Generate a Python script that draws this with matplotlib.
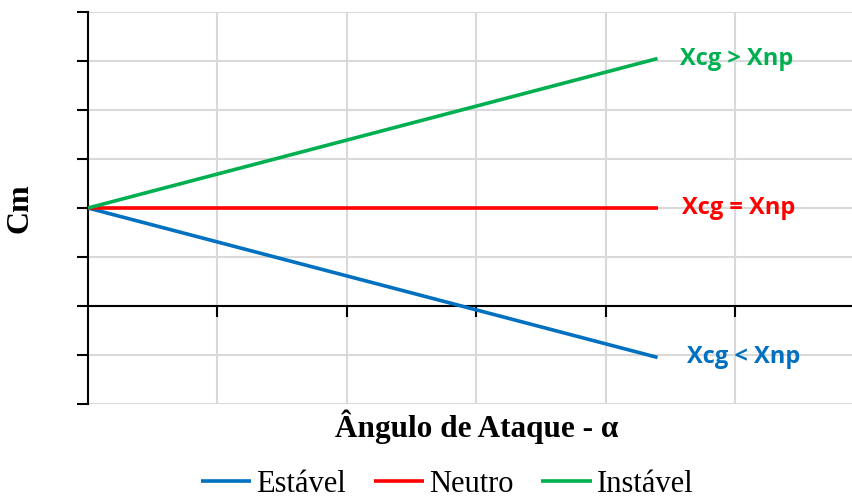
import matplotlib
matplotlib.use("Agg")
import matplotlib.pyplot as plt

# data
alpha = [0.0, 4.4]
cm_estavel = [2.0, -1.05]
cm_neutro = [2.0, 2.0]
cm_instavel = [2.0, 5.05]
series_names = ["Estável", "Neutro", "Instável"]
series_colors = ["#0070C0", "#FF0000", "#00B050"]
notes = ["Xcg < Xnp", "Xcg = Xnp", "Xcg > Xnp"]
note_dx = [0.23, 0.19, 0.17]

fig = plt.figure(figsize=(8.53, 4.97), dpi=100)
ax = fig.add_axes([88 / 853, 1 - 404 / 497, 1 - 88 / 853, 392 / 497])

ax.set_xlim(0, 5.91)
ax.set_ylim(-2, 6)
ax.set_xticks([1, 2, 3, 4, 5])
ax.set_yticks(range(-2, 7))
ax.grid(True, color="#d9d9d9", linewidth=1.5)
ax.set_axisbelow(True)

for s in ["top", "right", "bottom"]:
    ax.spines[s].set_visible(False)
ax.spines["left"].set_linewidth(1.5)
ax.axhline(0, color="black", linewidth=1.5, zorder=2)

ax.tick_params(axis="y", direction="out", length=8, width=1.5, labelleft=False)
ax.tick_params(axis="x", direction="out", length=8, width=1.5, labelbottom=False)
ax.spines["bottom"].set_position(("data", 0))

for ys, name, c in zip([cm_estavel, cm_neutro, cm_instavel], series_names, series_colors):
    ax.plot(alpha, ys, color=c, linewidth=2.6, label=name, solid_capstyle="butt", zorder=3)

for ys, note, c, dx in zip([cm_estavel, cm_neutro, cm_instavel], notes, series_colors, note_dx):
    ax.text(alpha[-1] + dx, ys[-1], note, color=c, fontsize=17, fontweight="bold",
            family="Open Sans", va="center", ha="left")

fig.text(20 / 853, 1 - 208 / 497, "Cm", rotation=90, fontsize=23, fontweight="bold",
         family="Liberation Serif", ha="center", va="center")
fig.text(477 / 853, 1 - 427 / 497, "Ângulo de Ataque - α", fontsize=22.5, fontweight="bold",
         family="Liberation Serif", ha="center", va="center")

fig.legend(loc="center", bbox_to_anchor=(447 / 853, 1 - 484 / 497), ncol=3, frameon=False,
           prop={"family": "Liberation Serif", "size": 22}, handlelength=1.65,
           handletextpad=0.17, columnspacing=0.9, borderpad=0, borderaxespad=0)

fig.savefig("out.png", dpi=100)
